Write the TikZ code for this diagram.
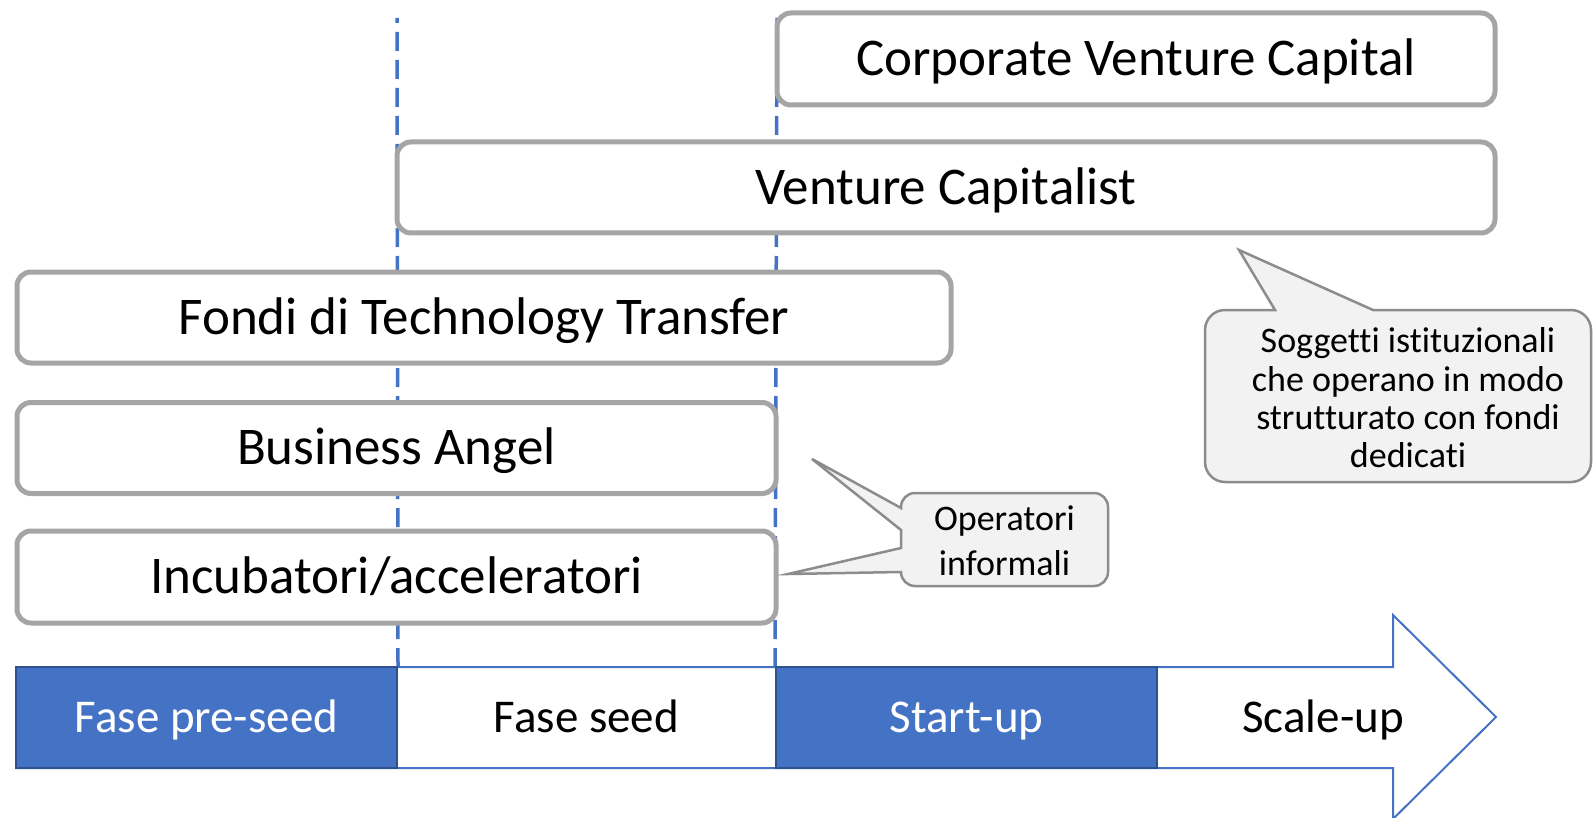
\documentclass[tikz,border=0pt]{standalone}
\usepackage{fontspec}
\setmainfont{Carlito}[Ligatures=NoCommon]
\definecolor{bblue}{HTML}{4472C4}
\definecolor{dblue}{HTML}{2F528F}
\definecolor{bgray}{HTML}{A5A5A5}
\definecolor{cgray}{HTML}{8C8C8C}
\definecolor{cfill}{HTML}{F2F2F2}
\begin{document}
\begin{tikzpicture}[x=1pt,y=-1pt,
  bx/.style={draw=bgray, line width=5pt, fill=white, rounded corners=14pt, inner sep=0pt,
    font=\fontsize{53}{60}\selectfont, text height=33.5pt, text depth=0pt},
  seg/.style={inner sep=0pt, minimum height=101pt, font=\fontsize{47}{54}\selectfont,
    text height=30pt, text depth=0pt},
  segfill/.style={seg, fill=bblue, draw=dblue, line width=2pt, text=white},
  arrowline/.style={draw=bblue, line width=2pt, fill=white},
  dashline/.style={draw=bblue, line width=3.5pt, dash pattern=on 19pt off 9pt, dash phase=14pt},
  callout/.style={draw=cgray, line width=2.5pt, fill=cfill},
  ctext/.style={align=center, inner sep=0pt, font=\fontsize{36}{38.3}\selectfont}]
\useasboundingbox (0,0) rectangle (1594,818);
\fill[white] (0,0) rectangle (1594,818);

% timeline arrow
\draw[arrowline] (16,667) -- (1393,667) -- (1393,615) -- (1496,717) -- (1393,819) -- (1393,768) -- (16,768) -- cycle;
\node[segfill, minimum width=381pt] (pre) at (206.5,717.5) {Fase pre-seed};
\node[seg, minimum width=379pt] (seed) at (586.5,717.5) {Fase seed};
\node[segfill, minimum width=381pt] (su) at (966.5,717.5) {Start-up};
\node[seg] (scale) at (1323,717.5) {Scale-up};

% dashed phase separators
\coordinate (d1) at (397,18);
\coordinate (d2) at (777,18);
\draw[dashline] (d1) -- (pre.north east);
\draw[dashline] (d2) -- (su.north west);

% investor boxes
\node[bx, minimum width=718pt, minimum height=92pt] (cvc) at (1136,59) {Corporate Venture Capital};
\node[bx, minimum width=1098pt, minimum height=91pt] (vc) at (946,187.5) {Venture Capitalist};
\node[bx, minimum width=934pt, minimum height=91pt] (ttf) at (484,317.5) {Fondi di Technology Transfer};
\node[bx, minimum width=759pt, minimum height=91pt] (ba) at (396.5,448) {Business Angel};
\node[bx, minimum width=759pt, minimum height=92pt] (inc) at (396.5,577) {Incubatori/acceleratori};

% callout: informal operators
\draw[callout] (901,530) -- (812,459) -- (901,508) -- (901,507)
  arc[start angle=180, end angle=270, radius=14] -- (1094,493)
  arc[start angle=270, end angle=360, radius=14] -- (1108,572)
  arc[start angle=0, end angle=90, radius=14] -- (915,586)
  arc[start angle=90, end angle=180, radius=14] -- (788,574) -- (901,548) -- cycle;
\node[ctext, font=\fontsize{36}{45}\selectfont] (op) at (1004.5,541) {Operatori\\informali};

% callout: institutional operators
\draw[callout] (1275,310) -- (1239,250) -- (1373,310) -- (1571,310)
  arc[start angle=270, end angle=360, radius=20] -- (1591,462)
  arc[start angle=0, end angle=90, radius=20] -- (1225,482)
  arc[start angle=90, end angle=180, radius=20] -- (1205,330)
  arc[start angle=180, end angle=270, radius=20] -- cycle;
\node[ctext] (sog) at (1408,398) {Soggetti istituzionali\\che operano in modo\\strutturato con fondi\\dedicati};
\end{tikzpicture}
\end{document}
